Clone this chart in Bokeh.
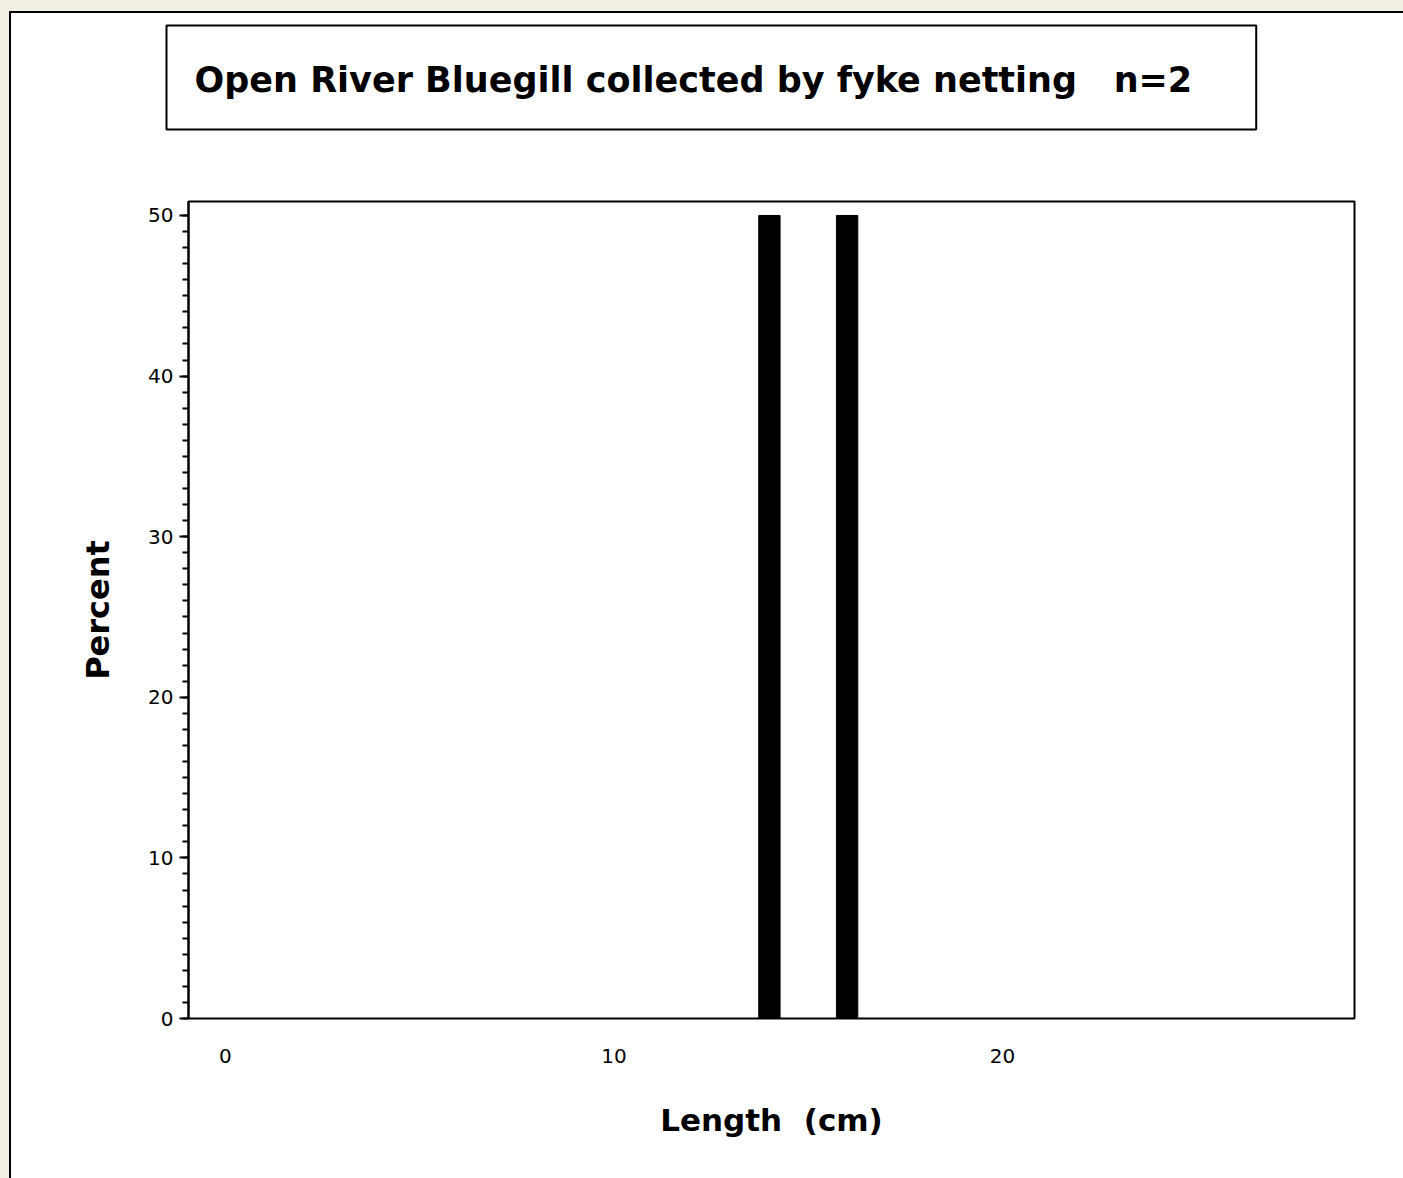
from bokeh.plotting import figure
from bokeh.models import Title, SingleIntervalTicker, Range1d
from bokeh.layouts import column
from bokeh.embed import file_html
from bokeh.resources import INLINE

# ---- data ----
lengths = [14, 16]          # cm (bin centres)
percents = [50, 50]         # percent of fish
x_ticks = [0, 10, 20]
title_text = "Open River Bluegill collected by fyke netting\u00a0\u00a0\u00a0n=2"
x_label = "Length\u00a0\u00a0(cm)"
y_label = "Percent"

FONT = "DejaVu Sans"
X0, Y0 = 11, 13            # figure origin on the page (inside the panel border)
W, H = 1403 - X0, 1178 - Y0

p = figure(width=W, height=H, output_backend="svg", toolbar_location=None,
           x_range=Range1d(-0.952, 29.06), y_range=Range1d(0, 50.87),
           min_border_left=188 - X0, min_border_right=1403 - 1354,
           min_border_top=201 - Y0, min_border_bottom=1178 - 1018)

p.border_fill_color = "white"
p.background_fill_color = "white"
p.outline_line_color = "black"
p.outline_line_width = 2
p.xgrid.visible = False
p.ygrid.visible = False

# spacer between the boxed title and the frame
spacer = Title(text="\u00a0", text_font=FONT, text_font_size="20px", standoff=0,
               padding=(0, 0, 23, 23), border_line_color=None)
p.add_layout(spacer, "above")

# padding order: (left, right, top, bottom)
title = Title(text=title_text, text_font=FONT, text_font_style="bold",
              text_font_size="35px", text_color="black", align="left",
              offset=-22, standoff=0, border_line_color="black",
              border_line_width=2, padding=(28, 64, 34, 30))
p.add_layout(title, "above")

p.vbar(x=lengths, top=percents, bottom=0, width=0.55, fill_color="black", line_color="black")

# x axis
p.xaxis.ticker = SingleIntervalTicker(interval=10, num_minor_ticks=0)
p.xaxis.axis_line_color = None
p.xaxis.major_tick_out = 0
p.xaxis.major_tick_in = 0
p.xaxis.minor_tick_out = 0
p.xaxis.major_label_standoff = 30
p.xaxis.major_label_text_font = FONT
p.xaxis.major_label_text_font_size = "20px"
p.xaxis.major_label_text_color = "black"
p.xaxis.axis_label = x_label
p.xaxis.axis_label_text_font = FONT
p.xaxis.axis_label_text_font_style = "bold"
p.xaxis.axis_label_text_font_size = "31px"
p.xaxis.axis_label_text_color = "black"
p.xaxis.axis_label_standoff = 36

# y axis
p.yaxis.ticker = SingleIntervalTicker(interval=10, num_minor_ticks=10)
p.yaxis.axis_line_color = "black"
p.yaxis.axis_line_width = 2
p.yaxis.major_tick_out = 9
p.yaxis.major_tick_in = 0
p.yaxis.minor_tick_out = 6
p.yaxis.minor_tick_in = 0
p.yaxis.major_tick_line_width = 2
p.yaxis.minor_tick_line_width = 2
p.yaxis.major_label_standoff = 6
p.yaxis.major_label_text_font = FONT
p.yaxis.major_label_text_font_size = "20px"
p.yaxis.major_label_text_color = "black"
p.yaxis.axis_label = y_label
p.yaxis.axis_label_text_font = FONT
p.yaxis.axis_label_text_font_style = "bold"
p.yaxis.axis_label_text_font_size = "32px"
p.yaxis.axis_label_text_color = "black"
p.yaxis.axis_label_standoff = 28

inner = column(p, styles={"border-left": "2px solid black", "border-top": "2px solid black",
                          "background-color": "white"})
root = column(inner, styles={"background-color": "#f2eee4", "padding-left": "9px",
                             "padding-top": "11px"})

open("out.html", "w").write(file_html(root, INLINE))
